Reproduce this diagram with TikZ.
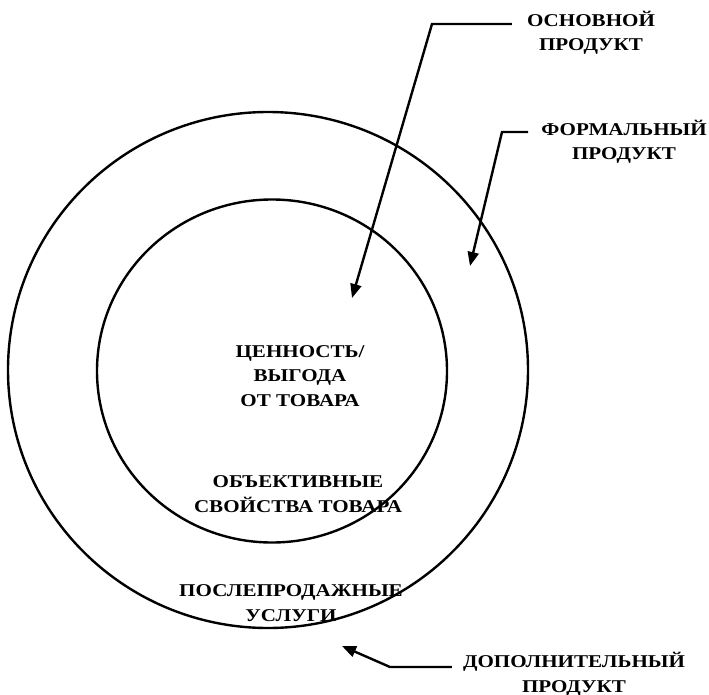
\documentclass[tikz,border=0pt]{standalone}
\usepackage{fontspec}
\setmainfont{Liberation Serif}
\newfontfamily\widefont[FakeStretch=1.17]{Liberation Serif}
\usetikzlibrary{arrows.meta, shapes.geometric}

\tikzset{
  ring/.style = {draw, ellipse, line width=2.4pt, inner sep=0pt},
  lbl/.style = {align=center, inner sep=1pt, font=\widefont\bfseries\fontsize{18}{24.5}\selectfont},
  pointer/.style = {line width=2.4pt, -{Triangle[length=14pt,width=11pt]}}
}

\begin{document}
\begin{tikzpicture}[x=1pt,y=-1pt]
        \useasboundingbox (0,0) rectangle (709,695);

        % circles
        \node[ring, minimum width=520pt, minimum height=516pt] (outer) at (268,370) {};
        \node[ring, minimum width=350pt, minimum height=343pt] (inner) at (272,371) {};

        % texts inside
        \node[lbl] (value) at (300,376) {ЦЕННОСТЬ/\\ВЫГОДА\\ОТ ТОВАРА};
        \node[lbl] (props) at (298,494) {ОБЪЕКТИВНЫЕ\\СВОЙСТВА ТОВАРА};
        \node[lbl] (service) at (291,603) {ПОСЛЕПРОДАЖНЫЕ\\УСЛУГИ};

        % labels outside
        \node[lbl] (core) at (591,33) {ОСНОВНОЙ\\ПРОДУКТ};
        \node[lbl] (formal) at (624,142) {ФОРМАЛЬНЫЙ\\ПРОДУКТ};
        \node[lbl] (extra) at (574,674) {ДОПОЛНИТЕЛЬНЫЙ\\ПРОДУКТ};

        % arrow ends
        \coordinate (c1) at (432,24);
        \coordinate (t1) at (352,298);
        \coordinate (c2) at (502,132);
        \coordinate (t2) at (470,266);
        \coordinate (c3) at (390,667);
        \coordinate (t3) at (342,646);

        \draw[pointer] ([xshift=-14pt]core.west |- c1) -- (c1) -- (t1);
        \draw[pointer] ([xshift=-12pt]formal.west |- c2) -- (c2) -- (t2);
        \draw[pointer] ([xshift=-10pt]extra.west |- c3) -- (c3) -- (t3);
\end{tikzpicture}
\end{document}
